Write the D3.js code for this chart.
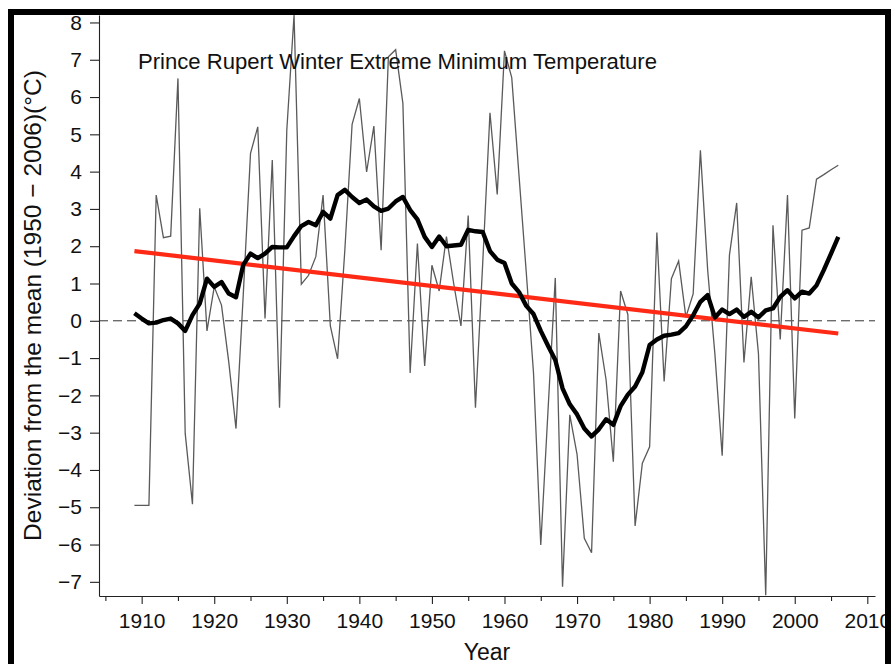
<!DOCTYPE html>
<html>
<head>
<meta charset="utf-8">
<script src="https://cdn.jsdelivr.net/npm/d3@7/dist/d3.min.js"></script>
<style>
  html, body { margin: 0; padding: 0; background: #fff; }
  svg { display: block; }
  text { font-family: "Liberation Sans", Arial, Helvetica, sans-serif; fill: #111; }
</style>
</head>
<body>
<svg id="chart" width="891" height="664"></svg>
<script>
// ---- data ----
const years = d3.range(1909, 2007);
const annualValues = [
  -4.95, -4.95, -4.95, 3.37, 2.23, 2.27, 6.5, -3.02, -4.92, 3.02,   // 1909-1918
  -0.27, 0.91, 0.42, -1.1, -2.89, 0.7, 4.49, 5.2, 0.06, 4.31,        // 1919-1928
  -2.33, 5.11, 8.2, 0.98, 1.22, 1.72, 3.37, -0.14, -1.02, 1.9,       // 1929-1938
  5.27, 5.96, 3.99, 5.22, 1.89, 7.08, 7.27, 5.83, -1.4, 2.07,        // 1939-1948
  -1.21, 1.49, 0.8, 2.26, 1.0, -0.14, 2.82, -2.33, 1.55, 5.58,       // 1949-1958
  3.39, 7.24, 6.52, 3.9, 1.3, -1.4, -6.01, -2.4, 1.15, -7.13,        // 1959-1968
  -2.52, -3.58, -5.83, -6.22, -0.33, -1.58, -3.78, 0.8, 0.17, -5.5,  // 1969-1978
  -3.82, -3.38, 2.37, -1.63, 1.13, 1.6, 0.1, 0.72, 4.57, 1.36,       // 1979-1988
  -0.9, -3.62, 1.76, 3.16, -1.12, 1.18, -0.88, -7.36, 2.56, -0.5,    // 1989-1998
  3.37, -2.62, 2.43, 2.49, 3.8, 3.92, 4.05, 4.17                     // 1999-2006
];
const smoothValues = [
  0.2, 0.06, -0.07, -0.05, 0.02, 0.06, -0.07, -0.27, 0.15, 0.46,     // 1909-1918
  1.13, 0.91, 1.04, 0.73, 0.63, 1.5, 1.8, 1.68, 1.8, 1.98,           // 1919-1928
  1.97, 1.97, 2.27, 2.54, 2.65, 2.56, 2.92, 2.74, 3.37, 3.51,        // 1929-1938
  3.32, 3.16, 3.25, 3.07, 2.95, 3.01, 3.2, 3.32, 2.97, 2.72,         // 1939-1948
  2.25, 1.98, 2.26, 2.0, 2.02, 2.04, 2.44, 2.4, 2.38, 1.87,          // 1949-1958
  1.64, 1.55, 1.0, 0.77, 0.4, 0.18, -0.27, -0.67, -1.05, -1.81,      // 1959-1968
  -2.24, -2.51, -2.89, -3.1, -2.91, -2.64, -2.79, -2.29, -1.98, -1.76, // 1969-1978
  -1.38, -0.65, -0.5, -0.4, -0.37, -0.33, -0.15, 0.15, 0.51, 0.69,   // 1979-1988
  0.09, 0.3, 0.18, 0.3, 0.1, 0.24, 0.09, 0.28, 0.33, 0.64,           // 1989-1998
  0.82, 0.6, 0.78, 0.73, 0.95, 1.36, 1.8, 2.25                       // 1999-2006
];
const trendYears = [1909, 2006];
const trendValues = [1.87, -0.34];
const xMajorTicks = [1910, 1920, 1930, 1940, 1950, 1960, 1970, 1980, 1990, 2000, 2010];
const xMinorTicks = [1905, 1915, 1925, 1935, 1945, 1955, 1965, 1975, 1985, 1995, 2005];
const yTicks = [-7, -6, -5, -4, -3, -2, -1, 0, 1, 2, 3, 4, 5, 6, 7, 8];
const titleText = "Prince Rupert Winter Extreme Minimum Temperature";
const xLabel = "Year";
const yLabel = "Deviation from the mean (1950 \u2212 2006)(\u00B0C)";

// ---- layout ----
const svg = d3.select("#chart");
const x = d3.scaleLinear().domain([1904.12, 2011.06]).range([99, 875]);
const y = d3.scaleLinear().domain([-7.38, 8.2]).range([596, 15]);
const fmtMinus = d => String(d).replace("-", "\u2212");

// zero reference line
svg.append("line")
  .attr("x1", x.range()[0]).attr("x2", x.range()[1])
  .attr("y1", y(0)).attr("y2", y(0))
  .attr("stroke", "#333").attr("stroke-width", 1)
  .attr("stroke-dasharray", "9,5");

const annual = years.map((yr, i) => ({ yr, v: annualValues[i] }));
const smooth = years.map((yr, i) => ({ yr, v: smoothValues[i] }));
const trend = trendYears.map((yr, i) => ({ yr, v: trendValues[i] }));
const line = d3.line().x(d => x(d.yr)).y(d => y(d.v));

svg.append("path").datum(annual)
  .attr("d", line).attr("fill", "none")
  .attr("stroke", "#5a5a5a").attr("stroke-width", 1.3)
  .attr("stroke-linejoin", "miter");

svg.append("path").datum(trend)
  .attr("d", line).attr("fill", "none")
  .attr("stroke", "#ff2a16").attr("stroke-width", 4.2);

svg.append("path").datum(smooth)
  .attr("d", line).attr("fill", "none")
  .attr("stroke", "#000").attr("stroke-width", 4.4)
  .attr("stroke-linejoin", "round").attr("stroke-linecap", "butt");

// axes
svg.append("g").attr("transform", `translate(0,${y.range()[0]})`)
  .call(d3.axisBottom(x).tickValues(xMajorTicks).tickSize(8).tickSizeOuter(0).tickPadding(9).tickFormat(d3.format("d")));
svg.append("g").attr("transform", `translate(0,${y.range()[0]})`)
  .call(d3.axisBottom(x).tickValues(xMinorTicks).tickSize(5).tickSizeOuter(0).tickFormat(""))
  .select(".domain").remove();

svg.append("g").attr("transform", `translate(${x.range()[0]},0)`)
  .call(d3.axisLeft(y).tickValues(yTicks).tickSize(9).tickSizeOuter(0).tickPadding(8).tickFormat(fmtMinus));

svg.selectAll(".tick text").attr("font-size", 21).attr("font-family", null).style("fill", "#111");
svg.selectAll(".domain, .tick line").attr("stroke", "#222").attr("stroke-width", 1.1);

// texts
svg.append("text").attr("x", 138).attr("y", 69)
  .attr("font-size", 22.1).text(titleText);

svg.append("text").attr("x", (x.range()[0] + x.range()[1]) / 2).attr("y", 660)
  .attr("text-anchor", "middle").attr("font-size", 23).text(xLabel);

svg.append("text")
  .attr("transform", `translate(41,${(y.range()[0] + y.range()[1]) / 2}) rotate(-90)`)
  .attr("text-anchor", "middle").attr("font-size", 24.5).text(yLabel);

// outer frame
svg.append("rect").attr("x", 11).attr("y", 12).attr("width", 877).attr("height", 720)
  .attr("fill", "none").attr("stroke", "#000").attr("stroke-width", 6);
</script>
</body>
</html>
